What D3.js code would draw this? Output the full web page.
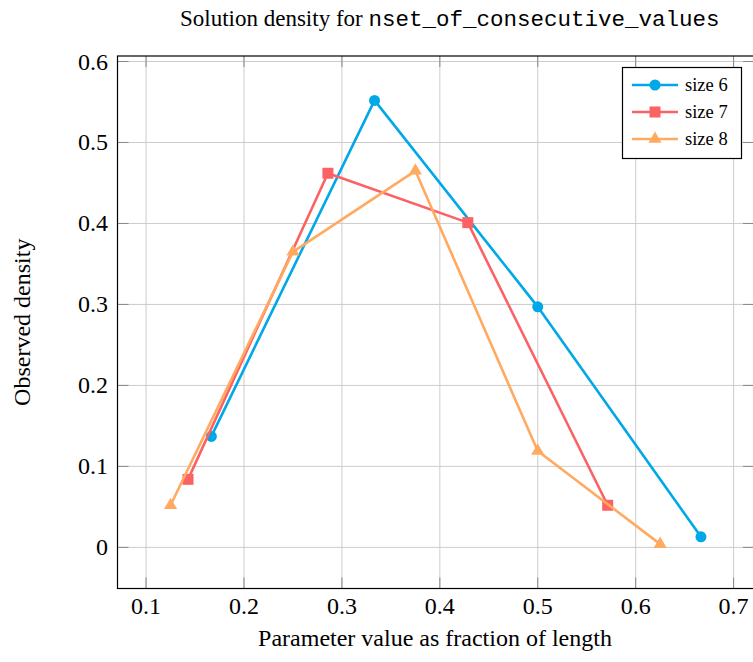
<!DOCTYPE html>
<html>
<head>
<meta charset="utf-8">
<script src="https://cdn.jsdelivr.net/npm/d3@7"></script>
<style>
  body { margin: 0; background: #fff; }
  svg { display: block; }
  text { font-family: "Liberation Serif", "DejaVu Serif", serif; fill: #000; }
</style>
</head>
<body>
<svg width="753" height="662"></svg>
<script>
// values
const xTicks = [0.1, 0.2, 0.3, 0.4, 0.5, 0.6, 0.7];
const yTicks = [0, 0.1, 0.2, 0.3, 0.4, 0.5, 0.6];

const size6X = [1/6, 2/6, 3/6, 4/6];
const size6Y = [0.137, 0.552, 0.297, 0.013];
const size7X = [1/7, 2/7, 3/7, 4/7];
const size7Y = [0.084, 0.462, 0.401, 0.052];
const size8X = [1/8, 2/8, 3/8, 4/8, 5/8];
const size8Y = [0.052, 0.365, 0.465, 0.119, 0.004];

const seriesNames = ["size 6", "size 7", "size 8"];
const colors = ["#00a8e8", "#fb6264", "#ffaa60"];
const markers = ["circle", "square", "triangle"];

const series = [
    {name: seriesNames[0], xs: size6X, ys: size6Y},
    {name: seriesNames[1], xs: size7X, ys: size7Y},
    {name: seriesNames[2], xs: size8X, ys: size8Y}
];

const svg = d3.select("svg");
const plotLeft = 117.5, plotRight = 754, plotTop = 56, plotBottom = 588.5;

// pgfplots style: enlarge limits by 10% of data range
const allX = series.flatMap(s => s.xs), allY = series.flatMap(s => s.ys);
const xMin = d3.min(allX), xMax = d3.max(allX);
const yMin = d3.min(allY), yMax = d3.max(allY);
const x = d3.scaleLinear()
    .domain([xMin - 0.1 * (xMax - xMin), xMax + 0.1 * (xMax - xMin)])
    .range([plotLeft, plotRight]);
const y = d3.scaleLinear()
    .domain([yMin - 0.1 * (yMax - yMin), yMax + 0.1 * (yMax - yMin)])
    .range([plotBottom, plotTop]);

// grid
svg.append("g").selectAll("line").data(xTicks).enter().append("line")
    .attr("x1", d => x(d)).attr("x2", d => x(d))
    .attr("y1", plotTop).attr("y2", plotBottom)
    .attr("stroke", "#cccccc").attr("stroke-width", 1);
svg.append("g").selectAll("line").data(yTicks).enter().append("line")
    .attr("x1", plotLeft).attr("x2", plotRight)
    .attr("y1", d => y(d)).attr("y2", d => y(d))
    .attr("stroke", "#cccccc").attr("stroke-width", 1);

// inward ticks on all four sides
const tickLen = 11;
const ticks = svg.append("g").attr("stroke", "#888").attr("stroke-width", 1);
xTicks.forEach(function(d) {
    ticks.append("line").attr("x1", x(d)).attr("x2", x(d)).attr("y1", plotBottom).attr("y2", plotBottom - tickLen);
    ticks.append("line").attr("x1", x(d)).attr("x2", x(d)).attr("y1", plotTop).attr("y2", plotTop + tickLen);
});
yTicks.forEach(function(d) {
    ticks.append("line").attr("x1", plotLeft).attr("x2", plotLeft + tickLen).attr("y1", y(d)).attr("y2", y(d));
    ticks.append("line").attr("x1", plotRight).attr("x2", plotRight - tickLen).attr("y1", y(d)).attr("y2", y(d));
});

// frame
svg.append("rect")
    .attr("x", plotLeft).attr("y", plotTop)
    .attr("width", plotRight - plotLeft).attr("height", plotBottom - plotTop)
    .attr("fill", "none").attr("stroke", "#000").attr("stroke-width", 1.2);

// tick labels
svg.append("g").selectAll("text").data(xTicks).enter().append("text")
    .attr("x", d => x(d)).attr("y", 614)
    .attr("text-anchor", "middle")
    .style("font-size", "24px")
    .text(d => d3.format(".1f")(d));
svg.append("g").selectAll("text").data(yTicks).enter().append("text")
    .attr("x", 108).attr("y", d => y(d) + 8)
    .attr("text-anchor", "end")
    .style("font-size", "24px")
    .text(d => d === 0 ? "0" : d3.format(".1f")(d));

// axis labels and title
svg.append("text")
    .attr("x", 435).attr("y", 646)
    .attr("text-anchor", "middle")
    .style("font-size", "24px")
    .text("Parameter value as fraction of length");
svg.append("text")
    .attr("transform", "translate(30," + ((plotTop + plotBottom) / 2) + ") rotate(-90)")
    .attr("text-anchor", "middle")
    .style("font-size", "24px")
    .text("Observed density");
const title = svg.append("text")
    .attr("x", 180).attr("y", 26)
    .style("font-size", "23px");
title.append("tspan").text("Solution density for ");
title.append("tspan")
    .style("font-family", "'Liberation Mono', 'DejaVu Sans Mono', monospace")
    .style("font-size", "22.5px")
    .text("nset_of_consecutive_values");

function drawMarker(g, kind, cx, cy, color) {
    if (kind === "circle") {
        g.append("circle").attr("cx", cx).attr("cy", cy).attr("r", 5.5).attr("fill", color);
    } else if (kind === "square") {
        g.append("rect").attr("x", cx - 5.5).attr("y", cy - 5.5)
            .attr("width", 11).attr("height", 11).attr("fill", color);
    } else {
        g.append("path")
            .attr("d", d3.symbol().type(d3.symbolTriangle).size(75)())
            .attr("transform", "translate(" + cx + "," + cy + ")")
            .attr("fill", color);
    }
}

const line = d3.line().x(d => x(d[0])).y(d => y(d[1]));

series.forEach(function(s, i) {
    const pts = s.xs.map((v, j) => [v, s.ys[j]]);
    const g = svg.append("g");
    g.append("path")
        .attr("d", line(pts))
        .attr("fill", "none")
        .attr("stroke", colors[i])
        .attr("stroke-width", 2.6)
        .attr("stroke-linejoin", "round");
    pts.forEach(p => drawMarker(g, markers[i], x(p[0]), y(p[1]), colors[i]));
});

// legend
const legend = svg.append("g");
legend.append("rect")
    .attr("x", 622.5).attr("y", 67.5)
    .attr("width", 119).attr("height", 91)
    .attr("fill", "#fff").attr("stroke", "#000").attr("stroke-width", 1.2);
series.forEach(function(s, i) {
    const ly = 85 + i * 27;
    legend.append("line")
        .attr("x1", 632).attr("x2", 678).attr("y1", ly).attr("y2", ly)
        .attr("stroke", colors[i]).attr("stroke-width", 2.6);
    drawMarker(legend, markers[i], 655, ly, colors[i]);
    legend.append("text")
        .attr("x", 685).attr("y", ly + 6)
        .style("font-size", "18.5px")
        .text(s.name);
});
</script>
</body>
</html>
